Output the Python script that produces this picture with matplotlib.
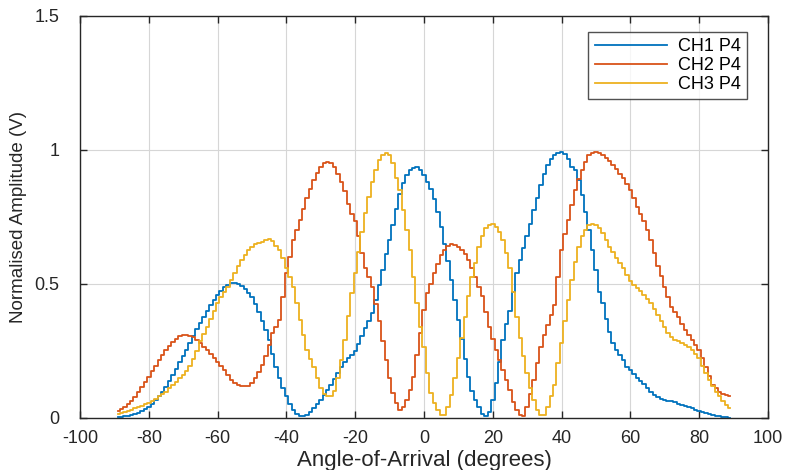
import numpy as np
import matplotlib.pyplot as plt

plt.rcParams['font.family'] = ['Liberation Sans', 'DejaVu Sans']
plt.rcParams['axes.unicode_minus'] = False

# angle of arrival, 1 degree steps
angles = np.arange(-89, 90)

ch1 = [0.003, 0.004, 0.005, 0.007, 0.010, 0.014, 0.019, 0.025, 0.032, 0.040,
       0.052, 0.065, 0.080, 0.097, 0.115, 0.137, 0.160, 0.183, 0.207, 0.230,
       0.255, 0.280, 0.305, 0.330, 0.355, 0.378, 0.400, 0.421, 0.440, 0.459,
       0.474, 0.487, 0.496, 0.502, 0.504, 0.500, 0.492, 0.480, 0.466, 0.450,
       0.425, 0.395, 0.362, 0.328, 0.290, 0.240, 0.190, 0.150, 0.112, 0.080,
       0.052, 0.030, 0.014, 0.007, 0.006, 0.012, 0.022, 0.036, 0.050, 0.067,
       0.085, 0.104, 0.124, 0.145, 0.167, 0.190, 0.210, 0.222, 0.236, 0.250,
       0.275, 0.305, 0.335, 0.362, 0.390, 0.440, 0.495, 0.550, 0.610, 0.664,
       0.720, 0.780, 0.835, 0.875, 0.905, 0.925, 0.933, 0.935, 0.925, 0.905,
       0.880, 0.855, 0.815, 0.768, 0.714, 0.650, 0.585, 0.515, 0.440, 0.366,
       0.295, 0.220, 0.154, 0.100, 0.065, 0.040, 0.015, 0.005, 0.020, 0.067,
       0.130, 0.210, 0.290, 0.350, 0.400, 0.470, 0.540, 0.590, 0.635, 0.677,
       0.725, 0.775, 0.820, 0.870, 0.910, 0.944, 0.965, 0.980, 0.990, 0.993,
       0.985, 0.965, 0.938, 0.925, 0.888, 0.832, 0.770, 0.700, 0.627, 0.550,
       0.470, 0.430, 0.370, 0.320, 0.280, 0.255, 0.235, 0.215, 0.190, 0.179,
       0.165, 0.150, 0.138, 0.125, 0.112, 0.098, 0.086, 0.078, 0.072, 0.067,
       0.064, 0.061, 0.058, 0.052, 0.048, 0.044, 0.040, 0.035, 0.031, 0.027,
       0.022, 0.017, 0.013, 0.009, 0.007, 0.005, 0.003, 0.002, 0.001]

ch2 = [0.024, 0.032, 0.040, 0.050, 0.061, 0.078, 0.095, 0.115, 0.135, 0.154,
       0.175, 0.195, 0.215, 0.235, 0.254, 0.268, 0.283, 0.296, 0.305, 0.309,
       0.308, 0.304, 0.300, 0.290, 0.278, 0.266, 0.254, 0.240, 0.225, 0.210,
       0.195, 0.178, 0.160, 0.143, 0.129, 0.122, 0.118, 0.117, 0.120, 0.130,
       0.148, 0.170, 0.198, 0.229, 0.270, 0.316, 0.340, 0.366, 0.450, 0.540,
       0.600, 0.664, 0.700, 0.739, 0.780, 0.820, 0.855, 0.888, 0.913, 0.935,
       0.950, 0.956, 0.952, 0.938, 0.912, 0.882, 0.845, 0.800, 0.760, 0.733,
       0.677, 0.615, 0.559, 0.525, 0.490, 0.425, 0.360, 0.285, 0.216, 0.150,
       0.092, 0.055, 0.030, 0.040, 0.067, 0.105, 0.154, 0.235, 0.316, 0.403,
       0.465, 0.500, 0.540, 0.575, 0.608, 0.628, 0.642, 0.647, 0.645, 0.638,
       0.627, 0.610, 0.590, 0.560, 0.527, 0.490, 0.453, 0.395, 0.340, 0.295,
       0.254, 0.215, 0.179, 0.140, 0.104, 0.060, 0.030, 0.012, 0.008, 0.042,
       0.090, 0.142, 0.205, 0.266, 0.310, 0.347, 0.385, 0.422, 0.525, 0.627,
       0.685, 0.739, 0.795, 0.851, 0.890, 0.925, 0.955, 0.981, 0.988, 0.994,
       0.990, 0.981, 0.970, 0.958, 0.944, 0.928, 0.911, 0.894, 0.873, 0.851,
       0.820, 0.788, 0.760, 0.733, 0.700, 0.664, 0.615, 0.565, 0.528, 0.490,
       0.450, 0.415, 0.396, 0.378, 0.352, 0.328, 0.308, 0.290, 0.272, 0.254,
       0.222, 0.190, 0.155, 0.123, 0.110, 0.098, 0.090, 0.085, 0.080]

ch3 = [0.014, 0.018, 0.022, 0.026, 0.030, 0.035, 0.040, 0.046, 0.051, 0.057,
       0.064, 0.072, 0.080, 0.089, 0.098, 0.110, 0.122, 0.135, 0.147, 0.160,
       0.173, 0.195, 0.218, 0.250, 0.285, 0.312, 0.340, 0.370, 0.400, 0.428,
       0.450, 0.470, 0.490, 0.515, 0.540, 0.565, 0.588, 0.608, 0.625, 0.639,
       0.648, 0.654, 0.658, 0.663, 0.667, 0.660, 0.642, 0.627, 0.596, 0.559,
       0.525, 0.490, 0.430, 0.366, 0.310, 0.254, 0.220, 0.190, 0.150, 0.110,
       0.090, 0.080, 0.080, 0.100, 0.148, 0.215, 0.290, 0.380, 0.465, 0.540,
       0.620, 0.695, 0.764, 0.826, 0.882, 0.925, 0.963, 0.981, 0.990, 0.981,
       0.950, 0.894, 0.851, 0.776, 0.700, 0.627, 0.527, 0.428, 0.340, 0.266,
       0.167, 0.092, 0.055, 0.030, 0.011, 0.011, 0.042, 0.086, 0.148, 0.223,
       0.297, 0.378, 0.453, 0.527, 0.577, 0.639, 0.677, 0.708, 0.720, 0.724,
       0.714, 0.695, 0.664, 0.615, 0.559, 0.470, 0.378, 0.297, 0.229, 0.167,
       0.110, 0.067, 0.030, 0.011, 0.011, 0.042, 0.080, 0.123, 0.204, 0.279,
       0.360, 0.440, 0.515, 0.583, 0.639, 0.677, 0.700, 0.720, 0.724, 0.720,
       0.708, 0.689, 0.664, 0.639, 0.620, 0.596, 0.577, 0.559, 0.534, 0.509,
       0.497, 0.484, 0.472, 0.459, 0.444, 0.428, 0.406, 0.384, 0.362, 0.340,
       0.318, 0.300, 0.292, 0.285, 0.278, 0.272, 0.263, 0.254, 0.240, 0.223,
       0.195, 0.167, 0.142, 0.117, 0.098, 0.080, 0.064, 0.048, 0.036]

labels = ['CH1 P4', 'CH2 P4', 'CH3 P4']
colors = ['#0072BD', '#D95319', '#EDB120']

fig = plt.figure(figsize=(7.86, 4.70), dpi=100)
ax = fig.add_axes([0.102, 0.111, 0.875, 0.855])

for y, lab, c in zip([ch1, ch2, ch3], labels, colors):
    ax.step(angles, y, where='mid', color=c, lw=1.3, label=lab)

ax.set_xlim(-100, 100)
ax.set_ylim(0, 1.5)
ax.set_xticks(np.arange(-100, 101, 20))
ax.set_yticks([0, 0.5, 1, 1.5])
ax.set_yticklabels(['0', '0.5', '1', '1.5'])
ax.grid(True, color='#d6d6d6', lw=0.8)
ax.set_axisbelow(True)
ax.tick_params(direction='in', top=True, right=True, labelsize=13,
               length=5, width=1, colors='#262626')
ax.tick_params(axis='x', pad=9)
ax.tick_params(axis='y', pad=15)
for s in ax.spines.values():
    s.set_color('#262626')
    s.set_linewidth(1)

ax.set_xlabel('Angle-of-Arrival (degrees)', fontsize=16, color='#262626', labelpad=2)
ax.set_ylabel('Normalised Amplitude (V)', fontsize=13.5, color='#262626', labelpad=5)

leg = ax.legend(loc='upper right', bbox_to_anchor=(0.9695, 0.960), borderaxespad=0,
                fontsize=13, frameon=True, fancybox=False, edgecolor='#262626',
                handlelength=4.0, handletextpad=0.6, labelspacing=0.1, borderpad=0.35)
leg.get_frame().set_linewidth(1)

fig.savefig('out.png', dpi=100)
